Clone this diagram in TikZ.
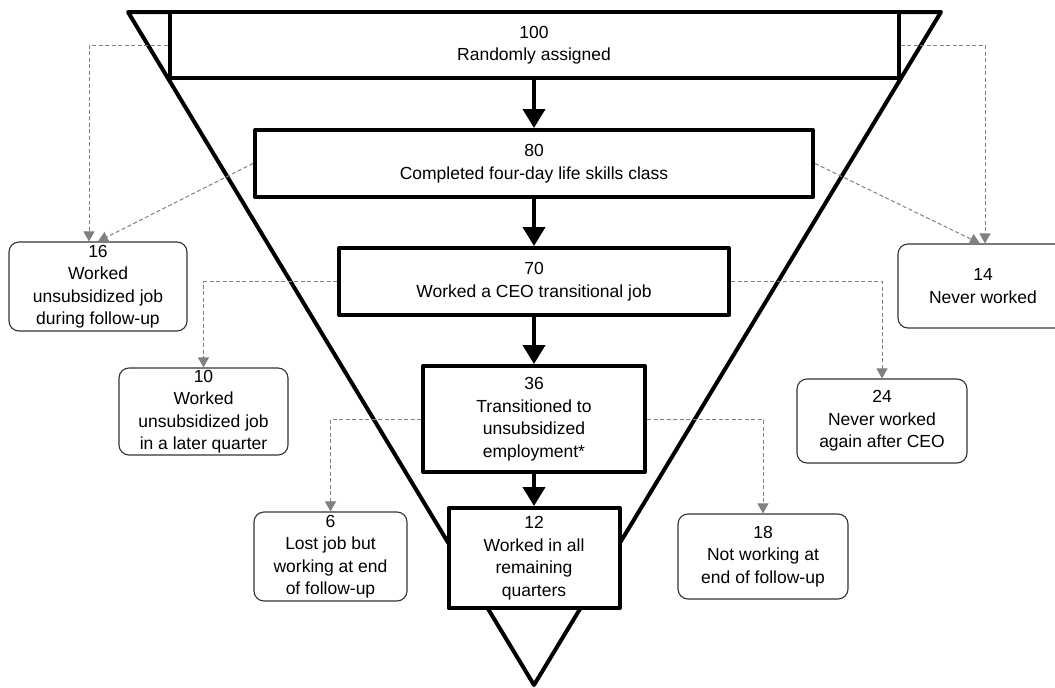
\documentclass[tikz,border=0pt]{standalone}
\usepackage{fontspec}
\setmainfont{Liberation Sans}
\usetikzlibrary{arrows.meta,calc}
\begin{document}
\begin{tikzpicture}[x=1pt,y=-1pt,
  every node/.style={font=\fontsize{17.5}{22.5}\selectfont, align=center, inner sep=0pt},
  mainbox/.style={draw=black, line width=4pt, line join=round, fill=white},
  sidebox/.style={draw=black!80, line width=1.1pt, fill=white, rounded corners=10pt},
  flowarrow/.style={line width=4pt, -{Triangle[width=22pt,length=19pt]}},
  dasharrow/.style={draw=black!50, line width=1pt, dash pattern=on 4pt off 2.5pt, -{Triangle[width=11pt,length=10pt]}}]
\useasboundingbox (0,0) rectangle (1055,688);
\clip (0,0) rectangle (1055,688);
% funnel
\draw[line width=4pt, line join=round, fill=white] (128,12) -- (941,12) -- (534,685) -- cycle;
% main boxes
\node[mainbox, minimum width=729pt, minimum height=66pt] (n1) at (534,45) {100\\Randomly assigned};
\node[mainbox, minimum width=558pt, minimum height=67pt] (n2) at (534,163.5) {80\\Completed four-day life skills class};
\node[mainbox, minimum width=390pt, minimum height=67pt] (n3) at (534,281.5) {70\\Worked a CEO transitional job};
\node[mainbox, minimum width=222pt, minimum height=106pt] (n4) at (534,419) {36\\Transitioned to\\unsubsidized\\employment*};
\node[mainbox, minimum width=171pt, minimum height=100pt] (n5) at (534,558) {12\\Worked in all\\remaining\\quarters};
% side boxes
\node[sidebox, minimum width=178pt, minimum height=89pt] (b16) at (98,286.5) {16\\Worked\\unsubsidized job\\during follow-up};
\node[sidebox, minimum width=170pt, minimum height=84pt] (b14) at (983,286) {14\\Never worked};
\node[sidebox, minimum width=169pt, minimum height=87pt] (b10) at (203.5,411.5) {10\\Worked\\unsubsidized job\\in a later quarter};
\node[sidebox, minimum width=170pt, minimum height=84pt] (b24) at (882,421) {24\\Never worked\\again after CEO};
\node[sidebox, minimum width=153pt, minimum height=89pt] (b6) at (330.5,556.5) {6\\Lost job but\\working at end\\of follow-up};
\node[sidebox, minimum width=170pt, minimum height=85pt] (b18) at (763,556.5) {18\\Not working at\\end of follow-up};
% main flow
\draw[flowarrow] (n1.south) -- (n2.north);
\draw[flowarrow] (n2.south) -- (n3.north);
\draw[flowarrow] (n3.south) -- (n4.north);
\draw[flowarrow] (n4.south) -- (n5.north);
% side flows
\draw[dasharrow] (n1.west) -| ([xshift=-9pt]b16.north);
\draw[dasharrow] (n2.west) -- (b16.north);
\draw[dasharrow] (n1.east) -| ([xshift=2pt]b14.north);
\draw[dasharrow] (n2.east) -- ([xshift=-3pt]b14.north);
\draw[dasharrow] (n3.west) -| (b10.north);
\draw[dasharrow] (n3.east) -| (b24.north);
\draw[dasharrow] (n4.west) -| (b6.north);
\draw[dasharrow] (n4.east) -| (b18.north);
\end{tikzpicture}
\end{document}
